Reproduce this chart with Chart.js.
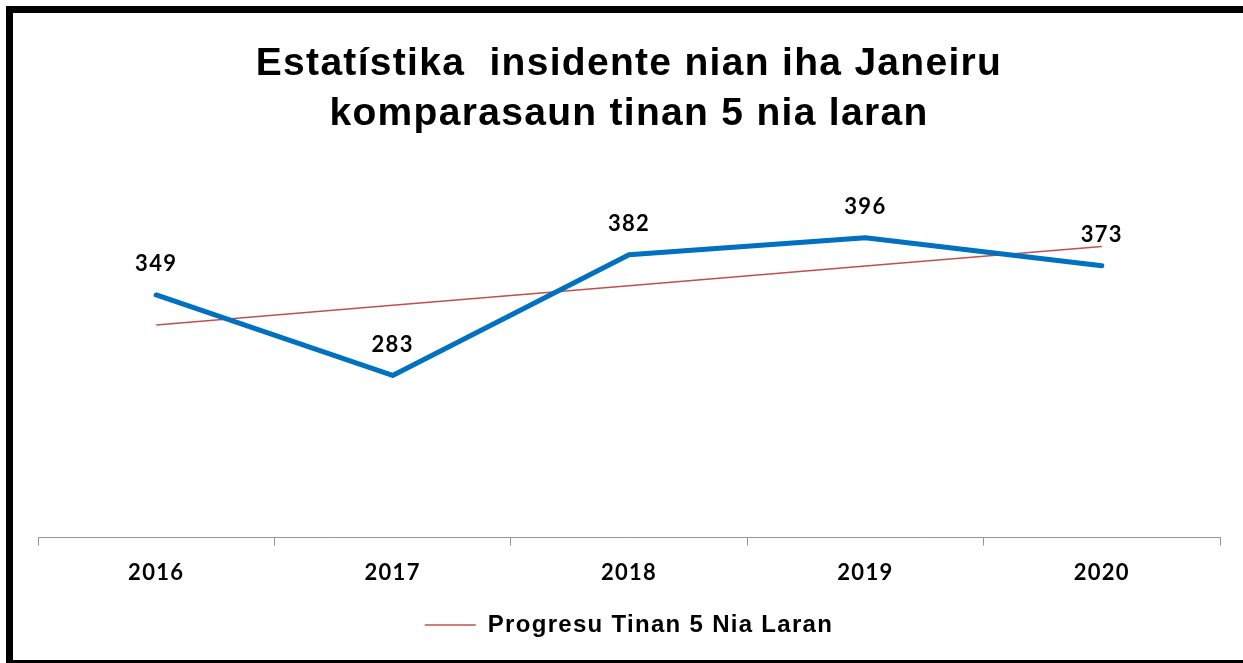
<!DOCTYPE html>
<html>
<head>
<meta charset="utf-8">
<script src="https://cdn.jsdelivr.net/npm/chart.js@4.4.1/dist/chart.umd.min.js"></script>
<style>
  html, body { margin: 0; padding: 0; background: #fff; overflow: hidden; }
  #wrap { position: relative; width: 1243px; height: 663px; }
  #frame { position: absolute; left: 6px; top: 6px; width: 1300px; height: 657px; box-sizing: border-box;
           border-left: 7px solid #000; border-top: 7px solid #000; border-bottom: 3px solid #000; pointer-events: none; }
  canvas { position: absolute; left: 0; top: 0; }
</style>
</head>
<body>
<div id="wrap">
  <canvas id="c" width="1243" height="663"></canvas>
  <div id="frame"></div>
</div>
<script>
const titleLines = ['Estatístika  insidente nian iha Janeiru', 'komparasaun tinan 5 nia laran'];
const years = ['2016', '2017', '2018', '2019', '2020'];
const incidents = [349, 283, 382, 396, 373];
const trendName = 'Progresu Tinan 5 Nia Laran';
const trendValues = [324.4, 340.5, 356.6, 372.7, 388.8];

const spacing = {
  id: 'spacing',
  beforeUpdate(chart) { chart.ctx.letterSpacing = '1.3px'; },
  beforeDraw(chart) { chart.ctx.letterSpacing = '1.3px'; }
};

const valueLabels = {
  id: 'valueLabels',
  afterDatasetsDraw(chart) {
    const ctx = chart.ctx;
    const meta = chart.getDatasetMeta(0);
    ctx.save();
    ctx.font = 'bold 22px Lato';
    ctx.fillStyle = '#000';
    ctx.textAlign = 'center';
    ctx.textBaseline = 'middle';
    meta.data.forEach((pt, i) => {
      ctx.fillText(String(incidents[i]), pt.x, pt.y - 31);
    });
    ctx.restore();
  }
};

new Chart(document.getElementById('c'), {
  type: 'line',
  data: {
    labels: years,
    datasets: [
      { label: 'Insidente', data: incidents, borderColor: '#0070C0', borderWidth: 5, pointRadius: 0, tension: 0,
        borderCapStyle: 'round', borderJoinStyle: 'round' },
      { label: trendName, data: trendValues, borderColor: '#C0504D', borderWidth: 1.5, pointRadius: 0, tension: 0 }
    ]
  },
  plugins: [spacing, valueLabels],
  options: {
    responsive: false,
    animation: false,
    layout: { padding: { left: 38, right: 23, top: 39, bottom: 16 } },
    plugins: {
      title: {
        display: true,
        text: titleLines,
        color: '#000',
        font: { family: 'Liberation Sans', weight: 'bold', size: 39, lineHeight: 1.28 },
        padding: { top: 0, bottom: 33 }
      },
      legend: {
        display: true,
        position: 'bottom',
        labels: {
          filter: (item) => item.datasetIndex === 1,
          usePointStyle: true,
          pointStyle: 'line',
          pointStyleWidth: 51,
          color: '#000',
          font: { family: 'Liberation Sans', weight: 'bold', size: 24 },
          padding: 13
        }
      },
      tooltip: { enabled: false }
    },
    scales: {
      y: { display: false, min: 150, max: 450 },
      x: {
        offset: true,
        grid: { offset: true, drawOnChartArea: false, drawTicks: true, tickLength: 8, color: '#969696', lineWidth: 1 },
        border: { display: true, color: '#969696', width: 1 },
        ticks: { color: '#000', padding: 14, font: { family: 'Lato', weight: 'bold', size: 22 } }
      }
    }
  }
});
</script>
</body>
</html>
